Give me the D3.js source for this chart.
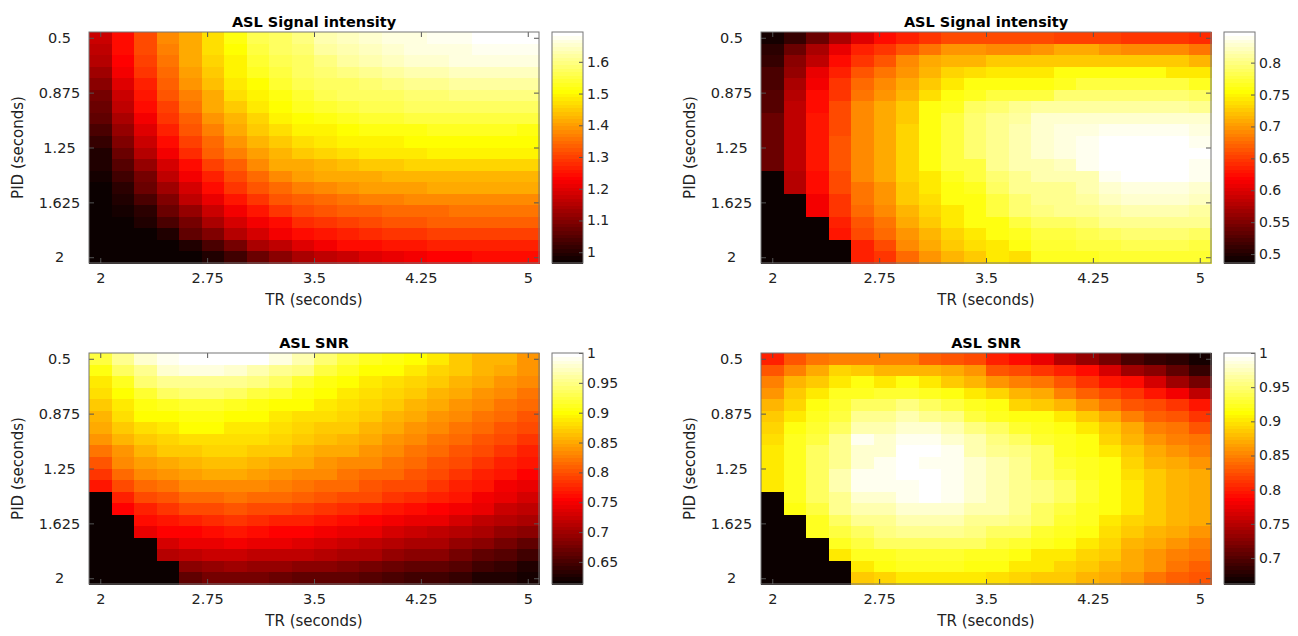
<!DOCTYPE html>
<html>
<head>
<meta charset="utf-8">
<script src="https://cdn.jsdelivr.net/npm/d3@7"></script>
<style>
  body { margin: 0; background: #fff; }
  text { font-family: "DejaVu Sans", sans-serif; }
</style>
</head>
<body>
<div id="chart"></div>
<script>
// grid coordinates (seconds)
const TR = [2.000, 2.158, 2.316, 2.474, 2.632, 2.789, 2.947, 3.105, 3.263, 3.421,
            3.579, 3.737, 3.895, 4.053, 4.211, 4.368, 4.526, 4.684, 4.842, 5.000];
const PID = [0.500, 0.579, 0.658, 0.737, 0.816, 0.895, 0.974, 1.053, 1.132, 1.211,
             1.289, 1.368, 1.447, 1.526, 1.605, 1.684, 1.763, 1.842, 1.921, 2.000];

const trTicks = [2, 2.75, 3.5, 4.25, 5];
const pidTicks = [0.5, 0.875, 1.25, 1.625, 2];

// ASL signal intensity, left (rows = PID, cols = TR)
const sigLeft = [
  [1.18,1.25,1.31,1.38,1.42,1.47,1.52,1.56,1.58,1.60,1.63,1.64,1.65,1.66,1.67,1.68,1.68,1.69,1.69,1.69],
  [1.17,1.24,1.31,1.37,1.42,1.47,1.51,1.55,1.57,1.59,1.62,1.63,1.64,1.65,1.66,1.67,1.67,1.68,1.68,1.68],
  [1.15,1.23,1.30,1.36,1.41,1.46,1.50,1.54,1.56,1.58,1.60,1.62,1.63,1.64,1.65,1.65,1.66,1.66,1.66,1.66],
  [1.13,1.22,1.29,1.35,1.40,1.45,1.49,1.53,1.55,1.57,1.59,1.60,1.61,1.62,1.63,1.63,1.64,1.64,1.64,1.64],
  [1.11,1.20,1.27,1.34,1.39,1.44,1.48,1.51,1.54,1.56,1.57,1.58,1.59,1.60,1.61,1.61,1.62,1.62,1.62,1.62],
  [1.09,1.18,1.26,1.32,1.37,1.42,1.47,1.50,1.52,1.54,1.56,1.57,1.58,1.58,1.59,1.59,1.60,1.60,1.60,1.60],
  [1.07,1.16,1.24,1.30,1.36,1.41,1.45,1.48,1.51,1.53,1.54,1.55,1.56,1.56,1.57,1.57,1.58,1.58,1.58,1.58],
  [1.06,1.14,1.22,1.29,1.34,1.39,1.43,1.46,1.49,1.51,1.52,1.53,1.54,1.54,1.55,1.55,1.55,1.55,1.55,1.55],
  [1.04,1.12,1.20,1.27,1.32,1.37,1.41,1.45,1.47,1.49,1.50,1.51,1.52,1.52,1.52,1.53,1.53,1.53,1.53,1.52],
  [1.02,1.10,1.18,1.24,1.30,1.35,1.39,1.43,1.45,1.47,1.48,1.49,1.50,1.50,1.51,1.51,1.51,1.51,1.51,1.51],
  [1.00,1.07,1.15,1.22,1.28,1.33,1.37,1.40,1.43,1.45,1.46,1.47,1.48,1.48,1.48,1.49,1.49,1.49,1.49,1.49],
  [0.99,1.05,1.12,1.19,1.25,1.30,1.34,1.38,1.41,1.42,1.43,1.44,1.45,1.45,1.46,1.46,1.46,1.46,1.46,1.46],
  [0.98,1.03,1.09,1.16,1.22,1.27,1.31,1.35,1.38,1.40,1.41,1.42,1.42,1.43,1.43,1.43,1.43,1.43,1.43,1.43],
  [0.97,1.01,1.07,1.13,1.19,1.24,1.29,1.32,1.35,1.37,1.38,1.39,1.40,1.40,1.40,1.41,1.41,1.41,1.41,1.41],
  [0.97,0.99,1.04,1.10,1.16,1.21,1.26,1.29,1.32,1.34,1.35,1.36,1.37,1.37,1.38,1.38,1.38,1.38,1.38,1.38],
  [0.97,0.98,1.01,1.07,1.12,1.18,1.22,1.26,1.29,1.31,1.32,1.33,1.34,1.35,1.35,1.35,1.36,1.36,1.36,1.36],
  [0.97,0.97,0.99,1.04,1.09,1.14,1.19,1.22,1.25,1.28,1.29,1.30,1.31,1.32,1.32,1.33,1.33,1.33,1.33,1.33],
  [0.97,0.97,0.97,1.00,1.06,1.10,1.15,1.19,1.22,1.24,1.26,1.27,1.28,1.29,1.29,1.30,1.30,1.30,1.30,1.30],
  [0.97,0.97,0.97,0.97,1.00,1.04,1.09,1.14,1.17,1.20,1.22,1.24,1.25,1.26,1.26,1.27,1.27,1.27,1.27,1.27],
  [0.97,0.97,0.97,0.97,0.97,1.00,1.03,1.07,1.11,1.14,1.16,1.18,1.20,1.21,1.22,1.23,1.23,1.24,1.24,1.25]
];

// ASL signal intensity, right
const sigRight = [
  [0.494,0.511,0.537,0.571,0.602,0.622,0.638,0.647,0.656,0.660,0.660,0.658,0.656,0.654,0.652,0.652,0.650,0.648,0.645,0.642],
  [0.503,0.537,0.571,0.605,0.638,0.647,0.663,0.681,0.698,0.698,0.690,0.694,0.698,0.707,0.707,0.698,0.690,0.690,0.690,0.681],
  [0.511,0.555,0.587,0.622,0.647,0.663,0.690,0.707,0.715,0.715,0.724,0.724,0.728,0.728,0.728,0.728,0.724,0.724,0.724,0.715],
  [0.520,0.562,0.605,0.638,0.663,0.681,0.698,0.715,0.732,0.737,0.741,0.741,0.741,0.758,0.758,0.758,0.758,0.758,0.745,0.741],
  [0.520,0.571,0.613,0.647,0.673,0.690,0.707,0.724,0.745,0.758,0.758,0.758,0.758,0.768,0.775,0.775,0.775,0.775,0.775,0.768],
  [0.529,0.580,0.622,0.647,0.681,0.698,0.715,0.737,0.758,0.768,0.779,0.779,0.779,0.792,0.792,0.792,0.792,0.792,0.792,0.786],
  [0.529,0.587,0.622,0.656,0.690,0.707,0.724,0.758,0.768,0.786,0.792,0.803,0.814,0.814,0.814,0.814,0.814,0.814,0.814,0.808],
  [0.537,0.587,0.630,0.656,0.690,0.707,0.728,0.758,0.775,0.792,0.803,0.814,0.826,0.826,0.826,0.826,0.826,0.831,0.831,0.826],
  [0.537,0.587,0.630,0.660,0.690,0.710,0.732,0.758,0.775,0.795,0.808,0.819,0.831,0.833,0.835,0.837,0.838,0.838,0.838,0.833],
  [0.537,0.587,0.630,0.663,0.690,0.711,0.732,0.758,0.775,0.797,0.808,0.819,0.831,0.835,0.838,0.843,0.846,0.848,0.846,0.840],
  [0.537,0.587,0.630,0.663,0.690,0.711,0.732,0.758,0.775,0.797,0.808,0.819,0.831,0.835,0.840,0.845,0.848,0.848,0.848,0.843],
  [0.537,0.587,0.630,0.663,0.690,0.707,0.732,0.758,0.779,0.779,0.803,0.819,0.819,0.823,0.838,0.843,0.846,0.848,0.846,0.840],
  [0.480,0.580,0.622,0.656,0.690,0.707,0.732,0.745,0.768,0.779,0.797,0.808,0.819,0.819,0.819,0.838,0.843,0.843,0.843,0.838],
  [0.480,0.580,0.622,0.656,0.681,0.698,0.724,0.741,0.758,0.768,0.786,0.803,0.806,0.808,0.816,0.828,0.833,0.833,0.833,0.828],
  [0.480,0.480,0.613,0.647,0.681,0.698,0.724,0.737,0.758,0.763,0.779,0.797,0.805,0.808,0.810,0.824,0.829,0.829,0.829,0.824],
  [0.480,0.480,0.613,0.647,0.673,0.690,0.715,0.732,0.745,0.758,0.775,0.792,0.800,0.803,0.805,0.814,0.819,0.819,0.819,0.814],
  [0.480,0.480,0.480,0.638,0.663,0.681,0.707,0.724,0.741,0.758,0.763,0.779,0.788,0.791,0.793,0.803,0.808,0.808,0.808,0.803],
  [0.480,0.480,0.480,0.630,0.656,0.673,0.698,0.715,0.732,0.745,0.758,0.768,0.776,0.779,0.782,0.790,0.792,0.792,0.792,0.788],
  [0.480,0.480,0.480,0.480,0.638,0.656,0.690,0.707,0.724,0.737,0.741,0.758,0.770,0.774,0.778,0.780,0.781,0.782,0.782,0.780],
  [0.480,0.480,0.480,0.480,0.638,0.647,0.673,0.698,0.715,0.728,0.741,0.737,0.764,0.766,0.768,0.770,0.772,0.772,0.773,0.771]
];

// ASL SNR, left
const snrLeft = [
  [0.926,0.952,0.977,0.988,0.994,1.000,1.000,0.994,0.982,0.964,0.940,0.926,0.915,0.909,0.903,0.890,0.867,0.860,0.855,0.840],
  [0.909,0.934,0.957,0.977,0.982,0.982,0.977,0.969,0.957,0.946,0.926,0.915,0.903,0.903,0.890,0.876,0.867,0.858,0.849,0.840],
  [0.890,0.915,0.940,0.952,0.957,0.957,0.952,0.946,0.934,0.921,0.909,0.903,0.890,0.885,0.876,0.867,0.858,0.849,0.840,0.831],
  [0.881,0.903,0.921,0.934,0.940,0.940,0.934,0.926,0.921,0.909,0.903,0.890,0.885,0.876,0.867,0.858,0.849,0.840,0.831,0.822],
  [0.867,0.890,0.909,0.915,0.921,0.921,0.915,0.909,0.903,0.903,0.890,0.885,0.876,0.867,0.858,0.849,0.840,0.831,0.822,0.813],
  [0.858,0.881,0.903,0.903,0.909,0.909,0.903,0.903,0.890,0.885,0.881,0.876,0.867,0.858,0.849,0.840,0.831,0.822,0.813,0.803],
  [0.849,0.867,0.885,0.890,0.903,0.903,0.890,0.890,0.885,0.876,0.872,0.867,0.858,0.849,0.840,0.831,0.822,0.813,0.803,0.795],
  [0.840,0.858,0.872,0.876,0.885,0.885,0.885,0.881,0.876,0.867,0.863,0.858,0.849,0.840,0.831,0.822,0.813,0.803,0.795,0.785],
  [0.822,0.840,0.858,0.867,0.872,0.876,0.876,0.872,0.867,0.858,0.854,0.849,0.840,0.831,0.822,0.813,0.803,0.795,0.785,0.776],
  [0.803,0.831,0.844,0.854,0.858,0.863,0.863,0.858,0.854,0.849,0.840,0.835,0.831,0.822,0.813,0.803,0.795,0.785,0.776,0.767],
  [0.785,0.813,0.831,0.840,0.844,0.849,0.849,0.844,0.840,0.835,0.831,0.822,0.817,0.813,0.803,0.795,0.785,0.776,0.767,0.758],
  [0.767,0.795,0.813,0.822,0.831,0.835,0.835,0.831,0.826,0.822,0.817,0.813,0.803,0.799,0.795,0.785,0.776,0.767,0.748,0.741],
  [0.610,0.776,0.795,0.803,0.813,0.817,0.822,0.817,0.813,0.808,0.803,0.799,0.795,0.785,0.781,0.776,0.767,0.748,0.741,0.731],
  [0.610,0.758,0.776,0.785,0.795,0.799,0.803,0.799,0.795,0.790,0.785,0.781,0.776,0.767,0.763,0.758,0.748,0.741,0.727,0.717],
  [0.610,0.610,0.763,0.767,0.776,0.781,0.785,0.781,0.776,0.772,0.767,0.763,0.758,0.748,0.745,0.741,0.731,0.721,0.714,0.704],
  [0.610,0.610,0.745,0.754,0.758,0.763,0.767,0.763,0.758,0.754,0.748,0.745,0.741,0.731,0.727,0.721,0.714,0.704,0.694,0.687],
  [0.610,0.610,0.610,0.731,0.741,0.745,0.748,0.745,0.741,0.736,0.731,0.727,0.721,0.714,0.709,0.704,0.694,0.687,0.677,0.667],
  [0.610,0.610,0.610,0.714,0.721,0.727,0.727,0.721,0.721,0.717,0.714,0.709,0.704,0.694,0.690,0.687,0.677,0.667,0.659,0.649],
  [0.610,0.610,0.610,0.610,0.687,0.694,0.699,0.694,0.694,0.690,0.687,0.681,0.677,0.672,0.667,0.663,0.659,0.649,0.640,0.631],
  [0.610,0.610,0.610,0.610,0.667,0.677,0.677,0.677,0.672,0.667,0.667,0.663,0.659,0.654,0.649,0.645,0.640,0.631,0.627,0.622]
];

// ASL SNR, right
const snrRight = [
  [0.804,0.828,0.845,0.852,0.852,0.852,0.848,0.836,0.828,0.821,0.804,0.789,0.774,0.750,0.733,0.718,0.694,0.686,0.678,0.670],
  [0.828,0.852,0.868,0.892,0.884,0.876,0.876,0.876,0.868,0.860,0.828,0.821,0.812,0.804,0.789,0.765,0.741,0.726,0.709,0.686],
  [0.852,0.876,0.884,0.900,0.916,0.904,0.916,0.900,0.884,0.876,0.860,0.852,0.845,0.828,0.812,0.797,0.789,0.765,0.741,0.718],
  [0.860,0.884,0.900,0.926,0.926,0.931,0.931,0.926,0.916,0.900,0.892,0.876,0.868,0.852,0.836,0.821,0.812,0.797,0.780,0.757],
  [0.876,0.892,0.916,0.931,0.943,0.947,0.953,0.947,0.936,0.926,0.916,0.892,0.884,0.876,0.860,0.845,0.828,0.821,0.812,0.797],
  [0.884,0.900,0.921,0.936,0.958,0.963,0.969,0.963,0.953,0.936,0.926,0.916,0.916,0.900,0.884,0.868,0.852,0.836,0.828,0.812],
  [0.892,0.916,0.931,0.947,0.969,0.973,0.984,0.984,0.969,0.953,0.943,0.931,0.921,0.916,0.900,0.884,0.868,0.852,0.845,0.828],
  [0.896,0.921,0.936,0.958,0.990,0.980,0.990,0.990,0.980,0.969,0.953,0.943,0.931,0.921,0.916,0.892,0.876,0.860,0.852,0.845],
  [0.900,0.921,0.943,0.963,0.984,0.984,1.000,1.000,0.990,0.973,0.963,0.953,0.943,0.926,0.916,0.900,0.884,0.868,0.860,0.852],
  [0.900,0.926,0.943,0.963,0.984,0.990,0.995,0.990,0.990,0.980,0.969,0.958,0.947,0.931,0.921,0.916,0.892,0.876,0.868,0.860],
  [0.900,0.926,0.947,0.969,0.990,0.990,1.000,1.000,0.990,0.980,0.969,0.958,0.947,0.936,0.926,0.916,0.896,0.884,0.876,0.868],
  [0.900,0.926,0.947,0.969,0.990,0.990,0.990,0.995,0.990,0.980,0.969,0.958,0.953,0.943,0.931,0.916,0.900,0.884,0.876,0.868],
  [0.660,0.921,0.943,0.963,0.980,0.984,0.990,0.995,0.990,0.980,0.969,0.958,0.953,0.943,0.931,0.916,0.900,0.888,0.876,0.868],
  [0.660,0.916,0.936,0.958,0.969,0.973,0.980,0.980,0.980,0.973,0.969,0.958,0.947,0.936,0.926,0.916,0.900,0.884,0.876,0.868],
  [0.660,0.660,0.926,0.947,0.958,0.963,0.969,0.969,0.969,0.963,0.958,0.953,0.943,0.931,0.921,0.904,0.892,0.884,0.876,0.868],
  [0.660,0.660,0.921,0.936,0.947,0.953,0.958,0.958,0.958,0.953,0.947,0.943,0.931,0.921,0.916,0.896,0.884,0.876,0.868,0.860],
  [0.660,0.660,0.660,0.926,0.936,0.943,0.947,0.947,0.947,0.943,0.936,0.931,0.921,0.916,0.900,0.892,0.876,0.868,0.860,0.852],
  [0.660,0.660,0.660,0.900,0.921,0.926,0.931,0.931,0.931,0.926,0.921,0.916,0.904,0.900,0.892,0.884,0.868,0.860,0.852,0.845],
  [0.660,0.660,0.660,0.660,0.900,0.916,0.921,0.921,0.921,0.916,0.916,0.904,0.900,0.892,0.884,0.876,0.868,0.860,0.845,0.836],
  [0.660,0.660,0.660,0.660,0.884,0.892,0.900,0.900,0.900,0.900,0.896,0.892,0.888,0.884,0.876,0.868,0.860,0.845,0.836,0.828]
];

// colour limits and colorbar ticks
const climSigLeft = [0.966, 1.694];
const climSigRight = [0.486, 0.848];
const climSnrLeft = [0.613, 1.0];
const climSnrRight = [0.662, 1.0];
const cbTicksSigLeft = [1, 1.1, 1.2, 1.3, 1.4, 1.5, 1.6];
const cbTicksSigRight = [0.5, 0.55, 0.6, 0.65, 0.7, 0.75, 0.8];
const cbTicksSnrLeft = [0.65, 0.7, 0.75, 0.8, 0.85, 0.9, 0.95, 1];
const cbTicksSnrRight = [0.7, 0.75, 0.8, 0.85, 0.9, 0.95, 1];

const W = 1298, H = 636;
const pw = 450, ph = 231;       // plot area
const cbGap = 13, cbW = 31;     // colorbar
const tickLen = 5;

const panels = [
  {title: "ASL Signal intensity", data: sigLeft,  clim: climSigLeft,  cbTicks: cbTicksSigLeft,  left: 89,  top: 32},
  {title: "ASL Signal intensity", data: sigRight, clim: climSigRight, cbTicks: cbTicksSigRight, left: 761, top: 32},
  {title: "ASL SNR",              data: snrLeft,  clim: climSnrLeft,  cbTicks: cbTicksSnrLeft,  left: 89,  top: 353},
  {title: "ASL SNR",              data: snrRight, clim: climSnrRight, cbTicks: cbTicksSnrRight, left: 761, top: 353}
];

// MATLAB "hot" colormap, 64 entries
const nColors = 64;
const hotMap = d3.range(nColors).map(i => {
  const k = i + 1;
  const r = Math.min(1, k / 24);
  const g = Math.min(1, Math.max(0, (k - 24) / 24));
  const b = Math.max(0, (k - 48) / 16);
  return d3.rgb(r * 255, g * 255, b * 255).formatHex();
});
function hotColor(v, clim) {
  let i = Math.floor((v - clim[0]) / (clim[1] - clim[0]) * nColors);
  i = Math.max(0, Math.min(nColors - 1, i));
  return hotMap[i];
}

const svg = d3.select("#chart")
  .append("svg")
    .attr("width", W)
    .attr("height", H)
    .style("background", "#fff");

panels.forEach(p => {
  const g = svg.append("g").attr("transform", `translate(${p.left},${p.top})`);

  // cell scales
  const xb = d3.scaleBand().domain(TR).range([0, pw]);
  const yb = d3.scaleBand().domain(PID).range([0, ph]);
  // tick scales (cell centres)
  const x = d3.scaleLinear().domain([TR[0], TR[TR.length - 1]])
    .range([xb.bandwidth() / 2, pw - xb.bandwidth() / 2]);
  const y = d3.scaleLinear().domain([PID[0], PID[PID.length - 1]])
    .range([yb.bandwidth() / 2, ph - yb.bandwidth() / 2]);

  const cells = [];
  p.data.forEach((row, i) => row.forEach((v, j) => cells.push({tr: TR[j], pid: PID[i], v: v})));

  g.append("g").selectAll("rect")
    .data(cells)
    .join("rect")
      .attr("x", d => xb(d.tr))
      .attr("y", d => yb(d.pid))
      .attr("width", xb.bandwidth() + 0.6)
      .attr("height", yb.bandwidth() + 0.6)
      .attr("fill", d => hotColor(d.v, p.clim))
      .attr("shape-rendering", "crispEdges");

  // axes, ticks inward on all sides
  const axB = g.append("g").attr("transform", `translate(0,${ph})`)
    .call(d3.axisBottom(x).tickValues(trTicks).tickSize(-tickLen).tickPadding(10).tickFormat(d => String(d)));
  const axT = g.append("g")
    .call(d3.axisTop(x).tickValues(trTicks).tickSize(-tickLen).tickFormat(""));
  const axL = g.append("g")
    .call(d3.axisLeft(y).tickValues(pidTicks).tickSize(-tickLen).tickFormat(d => String(d)));
  const axR = g.append("g").attr("transform", `translate(${pw},0)`)
    .call(d3.axisRight(y).tickValues(pidTicks).tickSize(-tickLen).tickFormat(""));
  [axB, axT, axL, axR].forEach(a => {
    a.select(".domain").remove();
    a.selectAll("line").attr("stroke", "#555");
    a.selectAll("text").attr("fill", "#222").style("font-size", "14.5px");
  });
  // y tick labels sit centred in the gutter
  axL.selectAll("text").attr("x", -29.5).attr("text-anchor", "middle");

  g.append("rect")
    .attr("width", pw).attr("height", ph)
    .attr("fill", "none").attr("stroke", "#777").attr("stroke-width", 1);

  // title and axis labels
  g.append("text")
    .attr("x", pw / 2).attr("y", -5)
    .attr("text-anchor", "middle")
    .style("font-size", "14.5px").style("font-weight", "bold")
    .attr("fill", "#000")
    .text(p.title);
  g.append("text")
    .attr("x", pw / 2).attr("y", ph + 42)
    .attr("text-anchor", "middle")
    .style("font-size", "15px").attr("fill", "#222")
    .text("TR (seconds)");
  g.append("text")
    .attr("transform", `translate(-66,${ph / 2}) rotate(-90)`)
    .attr("text-anchor", "middle")
    .style("font-size", "15px").attr("fill", "#222")
    .text("PID (seconds)");

  // colorbar
  const cb = g.append("g").attr("transform", `translate(${pw + cbGap},0)`);
  const cy = d3.scaleLinear().domain(p.clim).range([ph, 0]);
  const step = (p.clim[1] - p.clim[0]) / nColors;
  cb.selectAll("rect")
    .data(hotMap)
    .join("rect")
      .attr("x", 0)
      .attr("y", (c, i) => cy(p.clim[0] + (i + 1) * step))
      .attr("width", cbW)
      .attr("height", (c, i) => cy(p.clim[0] + i * step) - cy(p.clim[0] + (i + 1) * step) + 0.5)
      .attr("fill", c => c)
      .attr("shape-rendering", "crispEdges");
  const cbAx = cb.append("g").attr("transform", `translate(${cbW},0)`)
    .call(d3.axisRight(cy).tickValues(p.cbTicks).tickSize(-4).tickPadding(4).tickFormat(d => String(d)));
  cbAx.select(".domain").remove();
  cbAx.selectAll("line").attr("stroke", "#555");
  cbAx.selectAll("text").attr("fill", "#222").style("font-size", "14px");
  cb.append("rect")
    .attr("width", cbW).attr("height", ph)
    .attr("fill", "none").attr("stroke", "#777").attr("stroke-width", 1);
});
</script>
</body>
</html>
